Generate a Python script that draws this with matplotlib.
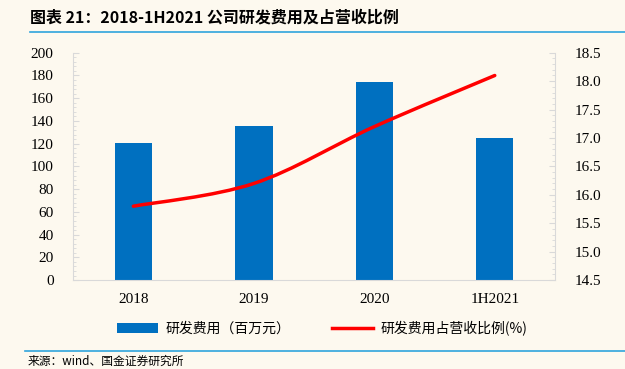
import numpy as np
import matplotlib
matplotlib.use('Agg')
import matplotlib.pyplot as plt
from matplotlib.path import Path
from matplotlib.patches import PathPatch, Patch
from matplotlib.lines import Line2D
from matplotlib.ticker import AutoMinorLocator, MultipleLocator

# data
categories = ['2018', '2019', '2020', '1H2021']
rd_expense = [121, 136, 174, 125]          # 百万元
rd_ratio = [15.8, 16.2, 17.2, 18.1]        # %

BG = '#FDF9EF'
BLUE = '#0070C0'
RED = '#FF0000'
GRID = '#D9D9D9'
CJK = ['Noto Sans CJK SC', 'DejaVu Sans']
SERIF = 'Liberation Serif'

fig = plt.figure(figsize=(6.25, 3.69), dpi=100, facecolor=BG)
ax = fig.add_axes([0.117, 0.241, 0.771, 0.616])
ax.set_facecolor(BG)
ax2 = ax.twinx()

x = np.arange(len(categories))
ax.bar(x, rd_expense, width=0.31, color=BLUE, zorder=2)
ax.set_xlim(-0.5, len(categories) - 0.5)
ax.set_ylim(0, 200)
ax.yaxis.set_major_locator(MultipleLocator(20))
ax.yaxis.set_minor_locator(AutoMinorLocator(5))
ax.set_xticks(x)
ax.set_xticklabels(categories)

# smoothed line (bezier through the data points)
pts = np.column_stack([x, rd_ratio]).astype(float)
verts = [tuple(pts[0])]
codes = [Path.MOVETO]
for i in range(len(pts) - 1):
    p0 = pts[i - 1] if i > 0 else pts[i]
    p1, p2 = pts[i], pts[i + 1]
    p3 = pts[i + 2] if i + 2 < len(pts) else pts[i + 1]
    c1 = p1 + (p2 - p0) / 6
    c2 = p2 - (p3 - p1) / 6
    verts += [tuple(c1), tuple(c2), tuple(p2)]
    codes += [Path.CURVE4] * 3
ax2.add_patch(PathPatch(Path(verts, codes), facecolor='none', edgecolor=RED,
                        lw=2.5, capstyle='round', zorder=3))
ax2.set_ylim(14.5, 18.5)
ax2.yaxis.set_major_locator(MultipleLocator(0.5))
ax2.yaxis.set_minor_locator(AutoMinorLocator(5))
ax2.yaxis.set_major_formatter(matplotlib.ticker.FormatStrFormatter('%.1f'))

for a in (ax, ax2):
    a.spines['top'].set_visible(False)
    for s in ('left', 'right', 'bottom'):
        a.spines[s].set_color(GRID)
        a.spines[s].set_linewidth(0.8)
    a.tick_params(axis='y', which='both', direction='in', color=GRID)
    a.tick_params(axis='y', which='major', length=4, pad=14)
    a.tick_params(axis='y', which='minor', length=2.5)
    for lab in a.get_yticklabels():
        lab.set_fontfamily(SERIF)
        lab.set_fontsize(11)
ax.tick_params(axis='x', length=0, pad=9)
for lab in ax.get_xticklabels():
    lab.set_fontfamily(SERIF)
    lab.set_fontsize(11)
ax.spines['right'].set_visible(False)
ax2.spines['left'].set_visible(False)
ax2.spines['bottom'].set_visible(False)

# legend
handles = [Patch(facecolor=BLUE, edgecolor='none'),
           Line2D([0], [0], color=RED, lw=2.5)]
fig.legend(handles, ['研发费用（百万元）', '研发费用占营收比例(%)'],
           loc='center', bbox_to_anchor=(0.515, 0.11), ncol=2, frameon=False,
           prop={'family': CJK, 'size': 10}, handlelength=3.0, handleheight=0.7,
           columnspacing=3.0, handletextpad=0.5)

# title and source
fig.text(0.048, 0.953, '图表 21：2018-1H2021 公司研发费用及占营收比例', family=CJK,
         fontsize=11.5, fontweight='bold', style='italic', va='center')
fig.add_artist(Line2D([0.048, 1.0], [0.913, 0.913], color='#2FA4DC', lw=1.2))
fig.add_artist(Line2D([0.04, 1.0], [0.049, 0.049], color='#2FA4DC', lw=1.2))
fig.text(0.045, 0.022, '来源：wind、国金证券研究所', family=CJK, fontsize=8.5,
         va='center')

fig.savefig('out.png', dpi=100, facecolor=BG)
